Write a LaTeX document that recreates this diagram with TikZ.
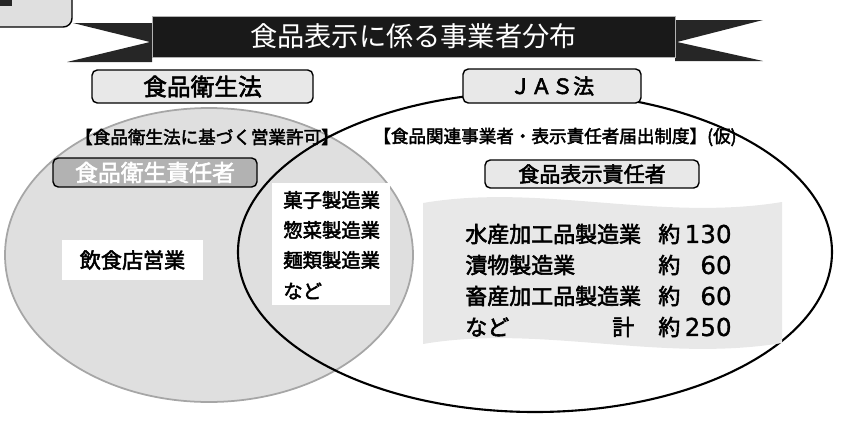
\documentclass[tikz,border=0pt]{standalone}
\usepackage{fontspec}
\usetikzlibrary{shapes,arrows}
\newfontfamily\jp{Noto Sans CJK JP}
\newfontfamily\jpb[FakeBold=2.5]{Noto Sans CJK JP}
\newfontfamily\numfont[FakeBold=1]{DejaVu Sans}
\tikzset{
  lawbox/.style={draw, thick, rounded corners=3pt, fill=gray!18, inner sep=0pt},
  wbox/.style={fill=white, inner sep=0pt},
  item/.style={anchor=west, inner sep=0pt, font=\jpb\fontsize{11}{13}\selectfont},
  row/.style={anchor=west, inner sep=0pt, font=\jpb\fontsize{12.5}{15}\selectfont},
  num/.style={anchor=east, inner sep=0pt, font=\numfont\fontsize{14}{16}\selectfont},
}
\begin{document}
\begin{tikzpicture}[x=0.02cm,y=-0.02cm]
     \useasboundingbox (0,0) rectangle (843,427);
     \clip (0,0) rectangle (843,427);
     \draw [thick, fill=gray!25, rounded corners=5pt] (-20,-20) rectangle (72,27);
     \fill [black!85] (-5,-5) rectangle (12,6);
     \fill [black!85] (73,23) -- (152,23) -- (152,62) -- (67,62) -- (150,42) -- cycle;
     \fill [black!85] (675,20) -- (763,20) -- (677,42) -- (763,61) -- (675,61) -- cycle;
     \node [fill=black!90, draw=gray!60, minimum width=10.46cm, minimum height=0.82cm, text=white, font=\jp\fontsize{15.5}{18}\selectfont] (title) at (413.5,36.5) {食品表示に係る事業者分布};
     \draw [gray!70, line width=1pt, fill=gray!25] (209,255) ellipse [x radius=204, y radius=147];
     \draw [line width=1.2pt] (535,252) ellipse [x radius=297, y radius=160];
     \fill [gray!18] (423,203) .. controls (540,183) and (660,222) .. (782,202) -- (782,343) .. controls (660,363) and (540,324) .. (423,344) -- cycle;
     \node [lawbox, minimum width=4.42cm, minimum height=0.66cm, font=\jpb\fontsize{13.5}{16}\selectfont] (eisei) at (202.5,86.5) {食品衛生法};
     \node [lawbox, minimum width=3.56cm, minimum height=0.68cm, font=\jpb\fontsize{12}{14}\selectfont] (jas) at (552,86) {ＪＡＳ法};
     \node [inner sep=0pt, font=\jpb\fontsize{10}{12}\selectfont] (kyoka) at (207,137) {【食品衛生法に基づく営業許可】};
     \node [anchor=west, inner sep=0pt, font=\jpb\fontsize{10}{12}\selectfont] (todoke) at (373,137) {【食品関連事業者・表示責任者届出制度】(仮)};
     \node [draw, thick, rounded corners=3pt, fill=gray!60, inner sep=0pt, minimum width=4.08cm, minimum height=0.58cm, text=white, font=\jpb\fontsize{13}{15}\selectfont] (eiseisekinin) at (155,172.5) {食品衛生責任者};
     \node [lawbox, minimum width=4.28cm, minimum height=0.56cm, font=\jpb\fontsize{12}{14}\selectfont] (hyojisekinin) at (592,174) {食品表示責任者};
     \node [wbox, minimum width=2.82cm, minimum height=0.8cm, font=\jpb\fontsize{12}{14}\selectfont] (inshoku) at (132.5,260) {飲食店営業};
     \fill [white] (272,183) rectangle (390,305);
     \node [item] (kashi) at (283,200) {菓子製造業};
     \node [item] (sozai) at (283,230) {惣菜製造業};
     \node [item] (menrui) at (283,260) {麺類製造業};
     \node [item] (nado) at (283,291) {など};
     \node [row] (suisan) at (465,234) {水産加工品製造業};
     \node [row] (tsukemono) at (465,265) {漬物製造業};
     \node [row] (chikusan) at (465,296) {畜産加工品製造業};
     \node [row] (nado2) at (465,327) {など};
     \node [row] (kei) at (612,327) {計};
     \node [row] (yaku1) at (658,234) {約};
     \node [row] (yaku2) at (658,265) {約};
     \node [row] (yaku3) at (658,296) {約};
     \node [row] (yaku4) at (658,327) {約};
     \node [num] (n1) at (732,234) {130};
     \node [num] (n2) at (732,265) {60};
     \node [num] (n3) at (732,296) {60};
     \node [num] (n4) at (732,327) {250};
\end{tikzpicture}
\end{document}
